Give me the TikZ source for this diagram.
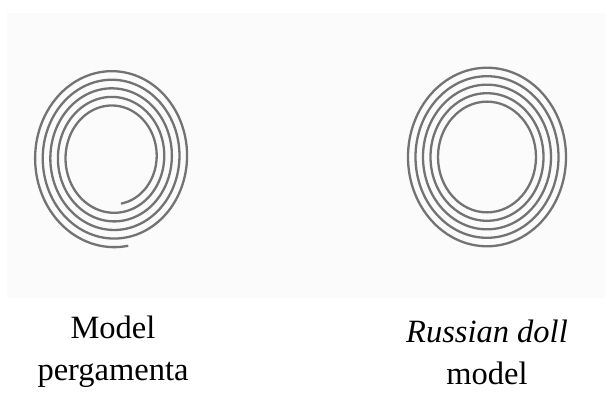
\documentclass[tikz,border=0pt]{standalone}
\usepackage{fontspec}
\setmainfont{Liberation Serif}
\usepackage{tikz}
\usetikzlibrary{positioning}
\tikzset{
  coil/.style={draw=black!55, line width=2.3pt},
  caption/.style={align=center, font=\fontsize{32.5}{42}\selectfont, inner sep=0pt}
}

\begin{document}
\begin{tikzpicture}[x=1pt,y=1pt]
    \useasboundingbox (0,0) rectangle (614,392);
    % faint panel behind the models
    \fill[black!1.5] (7,94) rectangle (605,379);
    % scroll model: one spiral
    \begin{scope}[shift={(113,235)},yscale=1.13]
      \draw[coil] plot[domain=0:1800,samples=600,smooth] ({\x-79}:{42+7.6*\x/360});
    \end{scope}
    % russian doll model: closed rings
    \foreach \r in {49,56.5,64,71.5,79}
      \draw[coil] (487,235) ellipse [x radius=\r, y radius=1.13*\r];
    % captions
    \node[caption] (scroll) at (113,40) {Model\\pergamenta};
    \node[caption] (doll) at (487,40) {\textit{Russian doll}\\model};
\end{tikzpicture}
\end{document}
